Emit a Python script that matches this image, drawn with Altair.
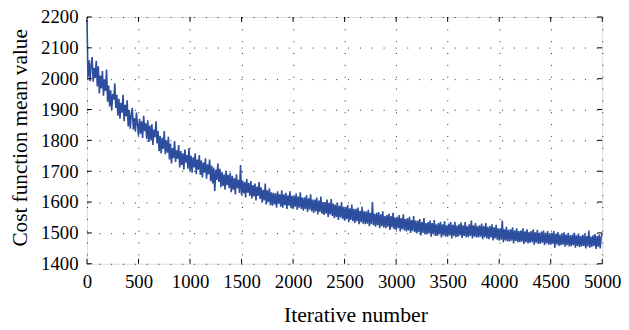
import altair as alt
import pandas as pd

step = 10
cost = [
    2190, 2005, 2060, 1992, 2045, 2070, 1990, 2035, 2002, 2058,
    1975, 2040, 1952, 2010, 1968, 2025, 1945, 1998, 1960, 2030,
    1925, 1978, 1910, 1962, 1898, 1950, 1932, 1985, 1905, 1948,
    1880, 1935, 1870, 1922, 1890, 1948, 1862, 1915, 1878, 1930,
    1845, 1898, 1838, 1882, 1905, 1835, 1872, 1828, 1890, 1852,
    1815, 1870, 1822, 1862, 1808, 1880, 1830, 1855, 1805, 1865,
    1795, 1848, 1800, 1852, 1785, 1835, 1810, 1862, 1790, 1830,
    1765, 1815, 1758, 1808, 1772, 1830, 1755, 1800, 1760, 1812,
    1738, 1790, 1725, 1775, 1742, 1798, 1730, 1768, 1740, 1785,
    1712, 1765, 1720, 1758, 1705, 1770, 1728, 1752, 1708, 1775,
    1700, 1750, 1695, 1745, 1712, 1758, 1690, 1738, 1705, 1752,
    1688, 1735, 1680, 1728, 1695, 1742, 1676, 1722, 1690, 1738,
    1668, 1718, 1660, 1712, 1636, 1705, 1672, 1725, 1665, 1708,
    1648, 1698, 1652, 1690, 1640, 1702, 1655, 1688, 1645, 1695,
    1632, 1685, 1640, 1678, 1625, 1690, 1645, 1672, 1630, 1720,
    1622, 1670, 1628, 1665, 1615, 1675, 1630, 1662, 1620, 1668,
    1612, 1655, 1618, 1660, 1605, 1650, 1620, 1665, 1610, 1648,
    1598, 1640, 1605, 1660, 1592, 1638, 1600, 1645, 1590, 1632,
    1588, 1630, 1592, 1628, 1582, 1635, 1595, 1625, 1585, 1638,
    1582, 1625, 1590, 1630, 1578, 1622, 1588, 1635, 1580, 1620,
    1578, 1620, 1585, 1628, 1575, 1618, 1582, 1632, 1578, 1615,
    1572, 1615, 1578, 1622, 1568, 1612, 1575, 1625, 1570, 1608,
    1565, 1608, 1570, 1615, 1560, 1605, 1568, 1618, 1562, 1600,
    1558, 1600, 1562, 1608, 1552, 1598, 1560, 1610, 1555, 1595,
    1548, 1592, 1552, 1598, 1542, 1588, 1550, 1600, 1545, 1585,
    1540, 1585, 1545, 1590, 1535, 1580, 1542, 1592, 1538, 1578,
    1532, 1578, 1538, 1582, 1528, 1572, 1535, 1585, 1530, 1570,
    1528, 1570, 1530, 1575, 1522, 1565, 1528, 1600, 1525, 1562,
    1520, 1565, 1525, 1568, 1515, 1560, 1522, 1570, 1518, 1555,
    1515, 1558, 1520, 1562, 1510, 1555, 1518, 1565, 1512, 1550,
    1510, 1552, 1515, 1558, 1505, 1548, 1512, 1560, 1508, 1545,
    1505, 1548, 1508, 1552, 1500, 1542, 1506, 1555, 1502, 1540,
    1498, 1540, 1502, 1545, 1492, 1535, 1500, 1548, 1495, 1532,
    1495, 1535, 1498, 1540, 1488, 1532, 1496, 1542, 1490, 1528,
    1490, 1532, 1495, 1536, 1485, 1528, 1492, 1538, 1488, 1525,
    1488, 1530, 1492, 1535, 1482, 1526, 1490, 1536, 1486, 1524,
    1488, 1528, 1492, 1534, 1484, 1525, 1490, 1535, 1486, 1522,
    1486, 1528, 1490, 1540, 1482, 1525, 1488, 1532, 1485, 1522,
    1485, 1525, 1488, 1530, 1480, 1522, 1486, 1532, 1482, 1520,
    1480, 1522, 1485, 1528, 1476, 1518, 1482, 1526, 1478, 1515,
    1475, 1515, 1478, 1540, 1470, 1512, 1476, 1520, 1472, 1510,
    1472, 1512, 1475, 1518, 1466, 1508, 1474, 1515, 1470, 1506,
    1470, 1508, 1472, 1515, 1464, 1505, 1470, 1512, 1466, 1503,
    1468, 1506, 1470, 1512, 1462, 1502, 1468, 1510, 1464, 1500,
    1465, 1504, 1468, 1508, 1460, 1500, 1466, 1506, 1462, 1498,
    1462, 1500, 1465, 1506, 1452, 1498, 1463, 1503, 1458, 1495,
    1460, 1498, 1462, 1502, 1455, 1495, 1460, 1500, 1456, 1492,
    1457, 1495, 1460, 1500, 1452, 1492, 1458, 1498, 1454, 1490,
    1456, 1494, 1458, 1498, 1450, 1490, 1456, 1508, 1452, 1488,
    1455, 1492, 1458, 1496, 1448, 1490, 1455, 1495, 1450, 1488,
    1500,
]
x_ticks = [0, 500, 1000, 1500, 2000, 2500, 3000, 3500, 4000, 4500, 5000]
y_ticks = [1400, 1500, 1600, 1700, 1800, 1900, 2000, 2100, 2200]

W, H = 522, 250
FONT = "Liberation Serif"
LINE_COLOR = "#2D4D9E"

df = pd.DataFrame({"iter": [i * step for i in range(len(cost))], "cost": cost})
xt = pd.DataFrame({"t": x_ticks})
yt = pd.DataFrame({"t": y_ticks})

x_scale = alt.Scale(domain=[0, 5000], nice=False)
y_scale = alt.Scale(domain=[1400, 2200], nice=False, zero=False)

x_axis = alt.Axis(
    values=x_ticks, format="d", grid=True, gridDash=[1, 11], gridColor="#000",
    gridOpacity=0.85, gridWidth=1, tickSize=0, domain=False, labelOverlap=False,
    labelFlush=False,
    labelFont=FONT, labelFontSize=19, labelColor="#000", labelPadding=9,
    title="Iterative number", titleFont=FONT, titleFontSize=22,
    titleFontWeight="normal", titleColor="#000",
    titleX=272, titleY=58, titleBaseline="alphabetic", titleAlign="center",
)
y_axis = alt.Axis(
    values=y_ticks, format="d", grid=True, gridDash=[1, 11], gridColor="#000",
    gridOpacity=0.85, gridWidth=1, tickSize=0, domain=False, labelOverlap=False,
    labelFlush=False,
    labelFont=FONT, labelFontSize=19, labelColor="#000", labelPadding=9,
    title="Cost function mean value", titleFont=FONT, titleFontSize=21.5,
    titleFontWeight="normal", titleColor="#000", titleAngle=270,
    titleX=-61, titleY=122, titleBaseline="alphabetic", titleAlign="center",
)

line = alt.Chart(df).mark_line(color=LINE_COLOR, strokeWidth=1.6).encode(
    x=alt.X("iter:Q", scale=x_scale, axis=x_axis),
    y=alt.Y("cost:Q", scale=y_scale, axis=y_axis),
)

tick_style = dict(color="#000", strokeWidth=1)
bottom_ticks = alt.Chart(xt).mark_rule(**tick_style).encode(
    x=alt.X("t:Q", scale=x_scale, axis=x_axis), y=alt.value(H), y2=alt.value(H - 5))
top_ticks = alt.Chart(xt).mark_rule(**tick_style).encode(
    x=alt.X("t:Q", scale=x_scale, axis=x_axis), y=alt.value(0), y2=alt.value(5))
left_ticks = alt.Chart(yt).mark_rule(**tick_style).encode(
    y=alt.Y("t:Q", scale=y_scale, axis=y_axis), x=alt.value(0), x2=alt.value(5))
right_ticks = alt.Chart(yt).mark_rule(**tick_style).encode(
    y=alt.Y("t:Q", scale=y_scale, axis=y_axis), x=alt.value(W), x2=alt.value(W - 5))

chart = alt.layer(line, bottom_ticks, top_ticks, left_ticks, right_ticks).properties(
    width=W, height=H,
    autosize=alt.AutoSizeParams(type="none"),
    padding={"left": 80, "top": 7, "right": 19, "bottom": 65},
    background="white",
).configure_view(stroke="#000", strokeWidth=1.2).configure(font=FONT)

chart.save("out.html", embed_options={"renderer": "svg", "actions": False})
